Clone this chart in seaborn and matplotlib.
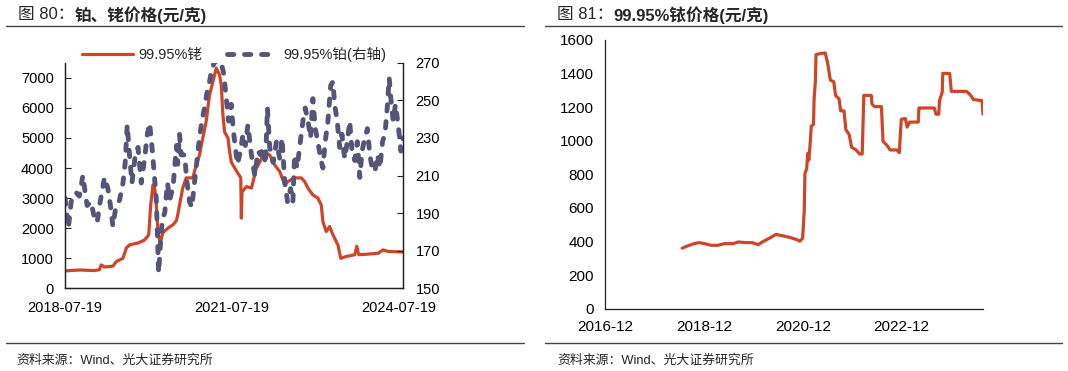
import pandas as pd
import matplotlib
matplotlib.use('Agg')
import matplotlib.pyplot as plt
import matplotlib.dates as mdates
import seaborn as sns

# ---- data ----
# 99.95% platinum, yuan/g (right axis of left panel)
pt_dates = ['2018-07-19', '2018-08-10', '2018-08-28', '2018-09-29', '2018-10-21', '2018-11-13',
            '2018-11-28', '2018-12-11', '2019-01-06', '2019-01-28', '2019-02-15', '2019-03-02',
            '2019-03-18', '2019-04-04', '2019-04-26', '2019-05-13', '2019-05-29', '2019-06-15',
            '2019-07-12', '2019-08-03', '2019-08-18', '2019-08-31', '2019-09-15', '2019-10-01',
            '2019-10-23', '2019-11-10', '2019-12-01', '2019-12-23', '2020-01-10', '2020-01-25',
            '2020-02-10', '2020-02-23', '2020-03-09', '2020-03-16', '2020-03-24', '2020-04-07',
            '2020-04-18', '2020-05-03', '2020-05-21', '2020-06-05', '2020-06-27', '2020-07-19',
            '2020-07-27', '2020-08-08', '2020-08-19', '2020-09-10', '2020-09-27', '2020-10-13',
            '2020-10-28', '2020-11-14', '2020-12-02', '2020-12-17', '2021-01-02', '2021-01-19',
            '2021-02-06', '2021-02-21', '2021-03-04', '2021-03-22', '2021-04-06', '2021-04-22',
            '2021-05-09', '2021-05-26', '2021-06-11', '2021-06-26', '2021-07-14', '2021-07-25',
            '2021-08-05', '2021-08-23', '2021-09-07', '2021-09-29', '2021-10-14', '2021-10-31',
            '2021-11-23', '2021-12-15', '2022-01-05', '2022-01-23', '2022-02-07', '2022-02-23',
            '2022-03-08', '2022-03-23', '2022-04-14', '2022-05-06', '2022-05-28', '2022-06-12',
            '2022-06-30', '2022-07-18', '2022-08-07', '2022-08-22', '2022-09-02', '2022-09-19',
            '2022-10-05', '2022-10-27', '2022-11-11', '2022-11-29', '2022-12-16', '2022-12-31',
            '2023-01-16', '2023-02-02', '2023-02-20', '2023-03-07', '2023-03-22', '2023-04-09',
            '2023-04-27', '2023-05-12', '2023-05-23', '2023-06-09', '2023-06-25', '2023-07-10',
            '2023-07-28', '2023-08-14', '2023-08-30', '2023-09-14', '2023-10-02', '2023-10-19',
            '2023-11-04', '2023-11-19', '2023-12-07', '2023-12-24', '2024-01-09', '2024-01-24',
            '2024-02-11', '2024-02-28', '2024-03-15', '2024-04-01', '2024-04-17', '2024-05-02',
            '2024-05-15', '2024-05-26', '2024-06-10', '2024-06-25', '2024-07-13', '2024-07-31',
            '2024-08-14']
pt_price = [198, 182, 196, 201, 199, 210, 201, 194, 196, 187, 185, 194,
            201, 209, 203, 194, 183, 192, 197, 206, 217, 237, 221, 206,
            221, 225, 206, 219, 232, 238, 225, 212, 197, 178, 158, 176,
            187, 190, 206, 197, 204, 226, 216, 232, 221, 221, 206, 196,
            193, 206, 219, 230, 239, 246, 255, 260, 265, 270, 271, 272,
            270, 264, 251, 239, 248, 236, 228, 216, 221, 232, 226, 237,
            221, 210, 223, 221, 225, 216, 246, 225, 217, 228, 219, 230,
            206, 196, 203, 196, 221, 214, 225, 239, 246, 239, 230, 251,
            235, 228, 219, 214, 228, 239, 258, 260, 248, 239, 225, 232,
            219, 228, 239, 223, 218, 228, 209, 223, 230, 235, 221, 214,
            212, 221, 214, 228, 232, 246, 262, 251, 239, 248, 237, 223,
            230]

# 99.95% rhodium, yuan/g (left axis of left panel)
rh_dates = ['2018-07-19', '2018-09-15', '2018-11-01', '2019-01-28', '2019-03-02', '2019-03-13',
            '2019-04-04', '2019-05-29', '2019-06-20', '2019-08-03', '2019-08-25', '2019-09-15',
            '2019-11-10', '2019-12-23', '2020-01-19', '2020-02-01', '2020-02-16', '2020-02-27',
            '2020-03-09', '2020-03-20', '2020-04-03', '2020-04-22', '2020-05-25', '2020-06-27',
            '2020-07-19', '2020-07-27', '2020-08-29', '2020-09-21', '2020-11-03', '2020-11-26',
            '2020-12-17', '2021-01-08', '2021-01-30', '2021-02-21', '2021-03-15', '2021-04-06',
            '2021-04-28', '2021-05-09', '2021-05-20', '2021-05-31', '2021-06-22', '2021-07-03',
            '2021-07-14', '2021-08-05', '2021-09-14', '2021-09-18', '2021-09-22', '2021-10-21',
            '2021-11-23', '2021-12-26', '2022-01-17', '2022-02-18', '2022-03-23', '2022-04-25',
            '2022-05-28', '2022-06-30', '2022-07-20', '2022-09-02', '2022-10-16', '2022-11-07',
            '2022-11-29', '2022-12-31', '2023-02-02', '2023-02-24', '2023-03-07', '2023-03-29',
            '2023-04-20', '2023-05-12', '2023-06-14', '2023-07-02', '2023-08-08', '2023-10-02',
            '2023-10-15', '2023-10-28', '2023-12-29', '2024-03-04', '2024-04-05', '2024-05-08',
            '2024-08-14']
rh_price = [570, 590, 600, 580, 610, 770, 700, 730, 880, 990, 1330, 1440,
            1500, 1600, 1770, 2770, 3430, 3330, 2770, 1870, 1500, 1850, 2000, 2110,
            2250, 2430, 3330, 3670, 3670, 4100, 4430, 5000, 5550, 6430, 6870, 7330,
            7100, 6770, 5770, 5200, 5000, 4530, 4200, 4000, 3670, 2330, 3200, 3380,
            3330, 4000, 4200, 4530, 4430, 4100, 3880, 3440, 3550, 3670, 3670, 3550,
            3330, 3100, 3000, 2770, 2210, 1880, 2050, 1770, 1430, 990, 1050, 1110,
            1390, 1110, 1130, 1160, 1270, 1220, 1200]

# 99.95% iridium, yuan/g (right panel)
ir_dates = ['2018-06-24', '2018-08-01', '2018-09-20', '2018-10-27', '2018-12-05', '2019-01-25',
            '2019-03-14', '2019-05-04', '2019-07-06', '2019-08-13', '2019-10-02', '2019-11-22',
            '2020-01-07', '2020-02-06', '2020-03-26', '2020-05-16', '2020-07-05', '2020-08-25',
            '2020-10-14', '2020-11-09', '2020-11-29', '2020-12-11', '2020-12-16', '2020-12-29',
            '2021-01-06', '2021-01-14', '2021-01-24', '2021-02-01', '2021-02-17', '2021-02-22',
            '2021-03-03', '2021-03-08', '2021-04-08', '2021-05-15', '2021-06-02', '2021-06-22',
            '2021-07-17', '2021-07-30', '2021-08-25', '2021-09-06', '2021-10-01', '2021-10-14',
            '2021-11-08', '2021-11-26', '2021-12-29', '2022-01-24', '2022-02-12', '2022-02-24',
            '2022-04-20', '2022-04-25', '2022-05-15', '2022-07-04', '2022-07-16', '2022-08-12',
            '2022-09-06', '2022-10-26', '2022-11-13', '2022-11-20', '2022-11-28', '2022-12-28',
            '2023-01-10', '2023-01-28', '2023-04-02', '2023-04-07', '2023-07-29', '2023-08-11',
            '2023-08-31', '2023-09-06', '2023-09-26', '2023-09-30', '2023-11-20', '2023-12-02',
            '2024-03-24', '2024-04-19', '2024-05-14', '2024-07-16', '2024-07-23']
ir_price = [360, 373, 387, 393, 387, 377, 377, 387, 387, 397, 393, 393,
            381, 397, 418, 442, 434, 424, 412, 402, 418, 580, 803, 834,
            925, 884, 986, 1087, 1097, 1249, 1351, 1513, 1519, 1523, 1462, 1361,
            1351, 1270, 1249, 1178, 1178, 1067, 1036, 961, 945, 921, 921, 1270,
            1270, 1219, 1203, 1203, 996, 975, 945, 945, 929, 1026, 1128, 1132,
            1081, 1111, 1111, 1195, 1195, 1158, 1158, 1239, 1290, 1401, 1401, 1294,
            1294, 1274, 1245, 1239, 1158]

left_xticks = ['2018-07-19', '2021-07-19', '2024-07-19']
right_xticks = ['2016-12-01', '2018-12-01', '2020-12-01', '2022-12-01']

RED = '#CF4527'
PURPLE = '#55557A'

sns.set_theme(style='white')
plt.rcParams['font.family'] = ['Liberation Sans', 'Noto Sans CJK SC']
plt.rcParams['axes.unicode_minus'] = False

pt = pd.DataFrame({'date': pd.to_datetime(pt_dates), 'price': pt_price})
rh = pd.DataFrame({'date': pd.to_datetime(rh_dates), 'price': rh_price})
ir = pd.DataFrame({'date': pd.to_datetime(ir_dates), 'price': ir_price})

fig = plt.figure(figsize=(10.68, 3.71), dpi=100)


def style_axis(ax, spines, size):
    for name, sp in ax.spines.items():
        sp.set_visible(name in spines)
        sp.set_color('#222222')
        sp.set_linewidth(0.9)
    ax.tick_params(direction='in', length=4, width=0.8, colors='#222222',
                   labelsize=size, labelcolor='black')
    ax.grid(False)
    ax.set_xlabel('')
    ax.set_ylabel('')


def two_part_title(x, y, first, second):
    t1 = fig.text(x, y, first, fontsize=12, va='center', ha='left')
    fig.canvas.draw()
    bb = t1.get_window_extent()
    x2 = bb.x1 / fig.bbox.width
    fig.text(x2, y, second, fontsize=12, fontweight='bold', va='center', ha='left')


# ---- left panel: rhodium & platinum ----
ax = fig.add_axes([0.0609, 0.2237, 0.3165, 0.6065])
ax2 = ax.twinx()
sns.lineplot(data=rh, x='date', y='price', ax=ax, color=RED, linewidth=2.3, legend=False)
sns.lineplot(data=pt, x='date', y='price', ax=ax2, color=PURPLE, linewidth=3.5, legend=False)
l_rh = ax.lines[0]
l_pt = ax2.lines[0]
l_rh.set_solid_capstyle('round')
l_pt.set_dashes((1.3, 2.2))
l_pt.set_dash_capstyle('round')

ax.set_ylim(0, 7500)
ax.set_yticks(range(0, 7001, 1000))
ax2.set_ylim(150, 270)
ax2.set_yticks(range(150, 271, 20))
ax.set_xlim(pt['date'].min(), pt['date'].max())
ax.set_xticks(pd.to_datetime(left_xticks))
ax.xaxis.set_major_formatter(mdates.DateFormatter('%Y-%m-%d'))
style_axis(ax, ['left', 'bottom', 'right'], 10.5)
style_axis(ax2, ['left', 'bottom', 'right'], 10.5)
ax.tick_params(axis='y', pad=8)
ax.tick_params(axis='x', pad=9)
ax2.tick_params(axis='y', pad=9)

ax2.legend([l_rh, l_pt], ['99.95%铑', '99.95%铂(右轴)'], loc='center',
           bbox_to_anchor=(0.5, 1.036), ncol=2, frameon=False, fontsize=10.5,
           handlelength=3.5, handletextpad=0.35, columnspacing=1.7,
           borderaxespad=0, borderpad=0)

# ---- right panel: iridium ----
bx = fig.add_axes([0.5665, 0.1682, 0.3539, 0.724])
sns.lineplot(data=ir, x='date', y='price', ax=bx, color=RED, linewidth=2.3, legend=False)
bx.lines[0].set_solid_capstyle('round')
bx.set_ylim(0, 1600)
bx.set_yticks(range(0, 1601, 200))
bx.set_xlim(pd.Timestamp('2016-12-01'), ir['date'].max())
bx.set_xticks(pd.to_datetime(right_xticks))
bx.xaxis.set_major_formatter(mdates.DateFormatter('%Y-%m'))
style_axis(bx, ['left', 'bottom'], 11)
bx.tick_params(axis='y', pad=8)
bx.tick_params(axis='x', pad=8)

# ---- titles, rules and source notes ----
two_part_title(0.0169, 0.9596, '图 80：', '铂、铑价格(元/克)')
two_part_title(0.5215, 0.9596, '图 81：', '99.95%铱价格(元/克)')

for x0, x1 in [(0.0056, 0.4906), (0.5103, 0.9944)]:
    for yy in (0.9286, 0.0755):
        fig.add_artist(plt.Line2D([x0, x1], [yy, yy], transform=fig.transFigure,
                                  color='#444444', linewidth=1.0))

fig.text(0.0156, 0.0296, '资料来源：Wind、光大证券研究所', fontsize=9.3, va='center', ha='left')
fig.text(0.5215, 0.0296, '资料来源：Wind、光大证券研究所', fontsize=9.3, va='center', ha='left')

fig.savefig('out.png', dpi=100, facecolor='white')
